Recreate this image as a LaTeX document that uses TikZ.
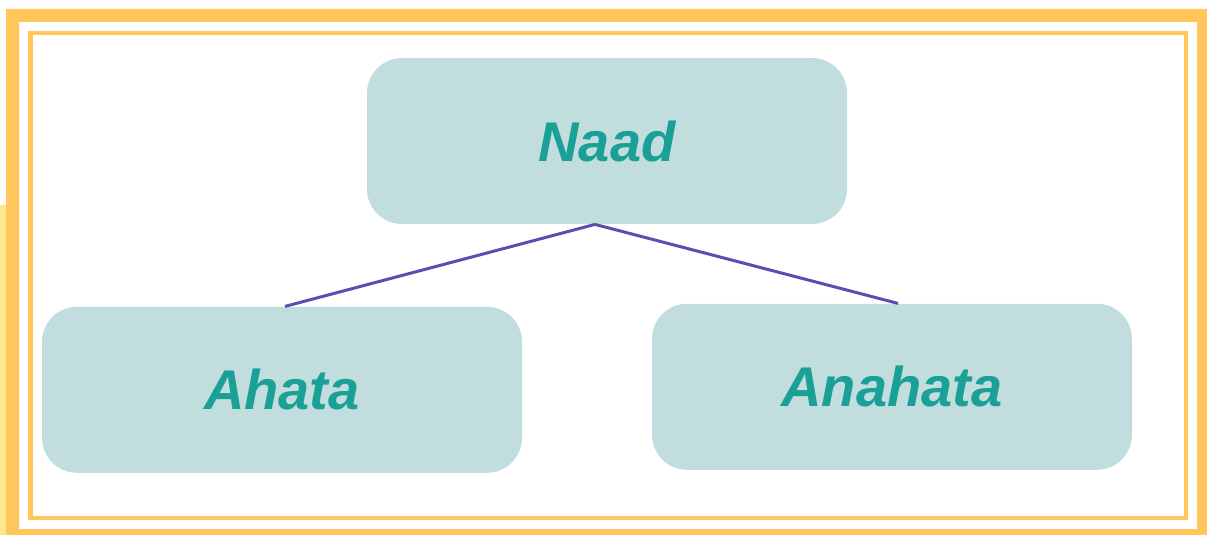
\documentclass[tikz,border=0pt]{standalone}
\usepackage{fontspec}
\setmainfont{Liberation Sans}
\usepackage{xcolor}
\usetikzlibrary{positioning}

\definecolor{boxfill}{RGB}{194,221,222}
\definecolor{boxtext}{RGB}{26,160,150}
\definecolor{linkcol}{RGB}{88,80,176}
\definecolor{frame}{RGB}{255,198,92}
\definecolor{paleframe}{RGB}{255,232,140}

\begin{document}
\begin{tikzpicture}[
  x=0.5pt, y=-0.5pt,
  concept/.style={rectangle, rounded corners=17.5pt, minimum width=240pt, minimum height=83pt, fill=boxfill, text=boxtext, font=\fontsize{28}{32}\selectfont\bfseries\itshape, inner sep=0pt},
  link/.style={linkcol, line width=1.5pt}
]
\useasboundingbox (0,0) rectangle (1207,535);

% Frame
\fill[paleframe] (0,205) rectangle (6,535);
\fill[frame, even odd rule] (6,9) rectangle (1207,535) (19,22) rectangle (1197,529);
\draw[frame, line width=2.25pt] (30.5,33) rectangle (1186,518);

% Nodes
\node[concept] (naad) at (607,141) {Naad};
\node[concept, below=41pt of naad, xshift=-162.5pt] (ahata) {Ahata};
\node[concept, below=39.5pt of naad, xshift=142.5pt] (anahata) {Anahata};

% Connections
\draw[link] ([xshift=-6pt]naad.south) -- ([xshift=1.5pt]ahata.north);
\draw[link] ([xshift=-6pt]naad.south) -- ([xshift=3pt]anahata.north);

\end{tikzpicture}
\end{document}
